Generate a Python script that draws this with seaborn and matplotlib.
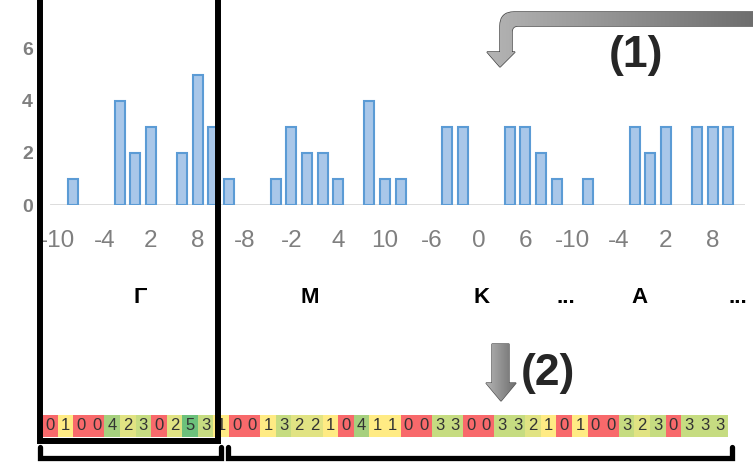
import numpy as np
import pandas as pd
import seaborn as sns
import matplotlib.pyplot as plt
from matplotlib.colors import LinearSegmentedColormap
from matplotlib.path import Path
from matplotlib.patches import PathPatch, Rectangle

# =====================================================
# DATA
# =====================================================
k_labels = ["-10", "-8", "-6", "-4", "-2", "0", "2", "4", "6", "8", "10"]

gamma_counts = [0, 1, 0, 0, 4, 2, 3, 0, 2, 5, 3]
m_counts = [1, 0, 0, 1, 3, 2, 2, 1, 0, 4, 1]
k_counts = [1, 0, 0, 3, 3, 0, 0, 3, 3, 2, 1]
a_counts = [0, 1, 0, 0, 3, 2, 3, 0, 3, 3, 3]

group_labels = ["Γ", "M", "K", "...", "A", "..."]
step_labels = ["(1)", "(2)"]

# layout only
group_label_x = [5.3, 16.2, 27.2, 32.6, 37.3, 43.6]

counts = gamma_counts + m_counts + k_counts + a_counts
df = pd.DataFrame({"pos": range(len(counts)), "count": counts})

# =====================================================
# FIGURE
# =====================================================
sns.set_style("white")
plt.rcParams["font.family"] = ["Liberation Sans", "DejaVu Sans"]
plt.rcParams["axes.unicode_minus"] = False

W, H = 753, 462
fig = plt.figure(figsize=(W / 100, H / 100), dpi=100)

def px_axes(x0, y0, x1, y1):
    # pixel box (top-left origin) -> figure fraction
    return [x0 / W, (H - y1) / H, (x1 - x0) / W, (y1 - y0) / H]

# ---------- histogram ----------
ax = fig.add_axes(px_axes(49.6, 2, 745, 205))
sns.barplot(data=df, x="pos", y="count", ax=ax, color="#a9c7e9",
            edgecolor="#5b9bd5", linewidth=1.5, width=0.64,
            errorbar=None, saturation=1)
# empty bins draw nothing
for bar in ax.patches:
    if bar.get_height() == 0:
        bar.set_visible(False)
ax.axhline(0, color="#d9d9d9", lw=2, zorder=0)
ax.set_xlim(-0.5, 44.08)
ax.set_ylim(0, 7.8)
sns.despine(ax=ax, left=True, bottom=True)
ax.set_xlabel("")
ax.set_ylabel("")

tick_pos = list(range(0, len(counts), 3))
ax.set_xticks(tick_pos)
ax.set_xticklabels([k_labels[p % len(k_labels)] for p in tick_pos],
                   color="#7f7f7f", fontsize=17.5)
ax.set_yticks([0, 2, 4, 6])
ax.set_yticklabels(["0", "2", "4", "6"], color="#7f7f7f",
                   fontsize=14, fontweight="bold")
ax.tick_params(axis="x", length=0, pad=18)
ax.tick_params(axis="y", length=0, pad=12)

for x, lab in zip(group_label_x, group_labels):
    ax.text(x, -3.54, lab, ha="center", va="center", fontsize=16,
            fontweight="bold", color="black")

# ---------- encoded strip ----------
hax = fig.add_axes(px_axes(42, 415, 728, 437))
cmap = LinearSegmentedColormap.from_list(
    "ryg", [(0.0, "#f8696b"), (0.2, "#ffeb84"), (0.4, "#e1e383"),
            (0.6, "#c6dc81"), (0.8, "#a6d07e"), (1.0, "#6cc17b")])
sns.heatmap(np.array([counts]), ax=hax, cmap=cmap, vmin=0, vmax=5,
            annot=True, fmt="d", cbar=False, xticklabels=False,
            yticklabels=False, annot_kws={"color": "#333333", "size": 12})

# ---------- decorations (pixel coordinates) ----------
deco = fig.add_axes([0, 0, 1, 1], zorder=5)
deco.patch.set_visible(False)
deco.axis("off")

# box round the first group
deco.add_patch(Rectangle((40, -10), 178, 451, fill=False,
                         edgecolor="black", lw=4.3))

# brackets
deco.plot([40, 40, 221, 221], [447, 458, 458, 447], color="black", lw=3.8,
          solid_joinstyle="miter")
deco.plot([228, 228, 732, 732], [447, 458, 458, 447], color="black", lw=3.8,
          solid_joinstyle="miter")

grey_cmap = LinearSegmentedColormap.from_list("g", ["#b4b4b4", "#6e6e6e"])
grad = np.linspace(0, 1, 256).reshape(1, -1)

# bent arrow (1)
M, L, C = Path.MOVETO, Path.LINETO, Path.CURVE3
verts1 = [(760, 12), (514, 12), (500, 12), (500, 26), (500, 52), (487, 52),
          (500, 67), (515, 52), (512, 52), (512, 32), (512, 26), (518, 26),
          (760, 26), (760, 12)]
codes1 = [M, L, C, C, L, L, L, L, L, L, C, C, L, Path.CLOSEPOLY]
arrow1 = PathPatch(Path(verts1, codes1), facecolor="none",
                   edgecolor="#3f3f3f", lw=1)
deco.add_patch(arrow1)
im1 = deco.imshow(grad, cmap=grey_cmap, extent=[486, 753, 68, 11],
                  aspect="auto", zorder=1)
im1.set_clip_path(arrow1)

# down arrow (2)
verts2 = [(492, 344), (509, 344), (509, 383), (516, 383), (501, 401),
          (486, 383), (492, 383), (492, 344)]
codes2 = [M, L, L, L, L, L, L, Path.CLOSEPOLY]
arrow2 = PathPatch(Path(verts2, codes2), facecolor="none",
                   edgecolor="#555555", lw=1)
deco.add_patch(arrow2)
im2 = deco.imshow(grad, cmap=grey_cmap, extent=[486, 516, 402, 343],
                  aspect="auto", zorder=1)
im2.set_clip_path(arrow2)

deco.text(636, 56, step_labels[0], ha="center", va="center",
          fontsize=32, fontweight="bold")
deco.text(548, 374, step_labels[1], ha="center", va="center",
          fontsize=32, fontweight="bold")

deco.set_xlim(0, W)
deco.set_ylim(H, 0)

fig.savefig("out.png", dpi=100)
